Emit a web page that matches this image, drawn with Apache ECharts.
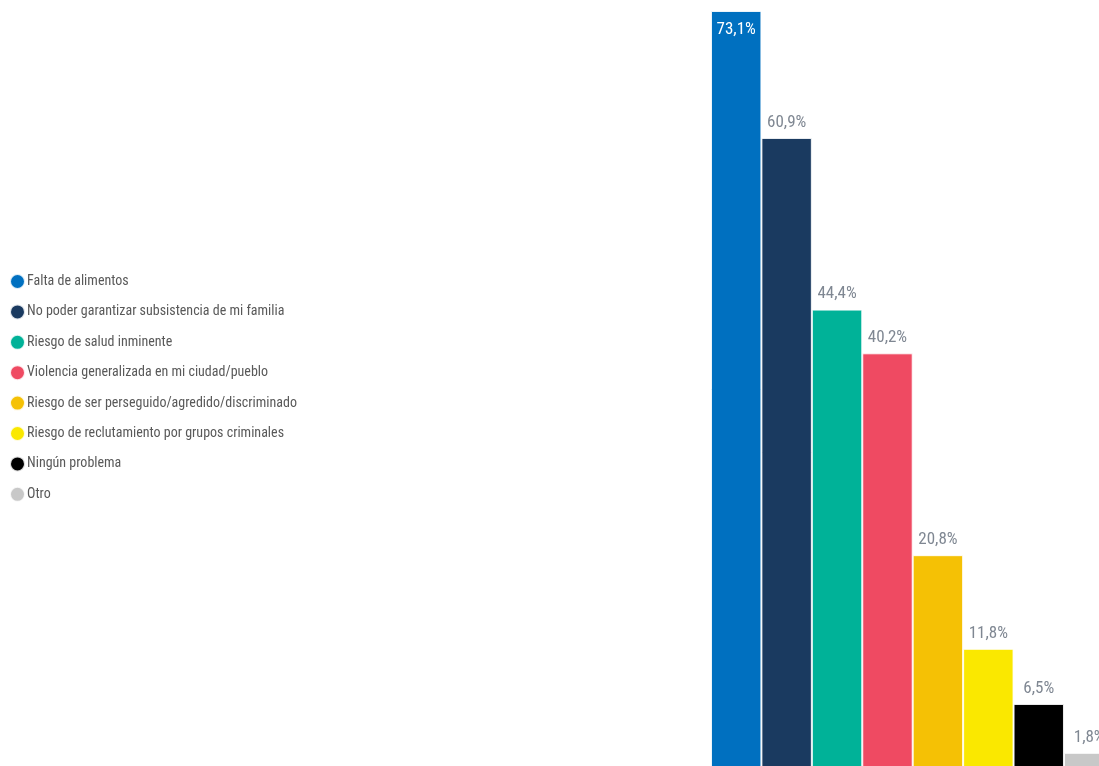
<!DOCTYPE html>
<html>
<head>
<meta charset="utf-8">
<script src="https://cdn.jsdelivr.net/npm/echarts@6/dist/echarts.min.js"></script>
<style>
html,body{margin:0;padding:0;background:#fff;}
#chart{width:1099px;height:766px;}
</style>
</head>
<body>
<div id="chart"></div>
<script>
var categories = [
  'Falta de alimentos',
  'No poder garantizar subsistencia de mi familia',
  'Riesgo de salud inminente',
  'Violencia generalizada en mi ciudad/pueblo',
  'Riesgo de ser perseguido/agredido/discriminado',
  'Riesgo de reclutamiento por grupos criminales',
  'Ningún problema',
  'Otro'
];
var values = [73.1, 60.9, 44.4, 40.2, 20.8, 11.8, 6.5, 1.8];
var colors = ['#0070C0', '#1A3A60', '#00B298', '#EF4A62', '#F5C105', '#FAE800', '#000000', '#C8C8C8'];

var FONT = '"Liberation Sans Narrow", "Arial Narrow", "Roboto Condensed", sans-serif';

function fmt(v) { return v.toFixed(1).replace('.', ',') + '%'; }

var series = categories.map(function (name, i) {
  var data = categories.map(function (c, j) { return j === i ? values[i] : '-'; });
  return {
    name: name,
    type: 'bar',
    stack: 'all',
    barCategoryGap: '0%',
    data: data,
    itemStyle: { color: colors[i], borderColor: 'rgba(255,255,255,0.85)', borderWidth: 1 },
    label: i === 0 ? {
      show: true, position: 'insideTop', distance: 10, color: '#ffffff',
      fontSize: 17, fontFamily: FONT,
      formatter: function (p) { return fmt(p.value); }
    } : {
      show: true, position: 'top', distance: 7, color: '#7f8792',
      fontSize: 17, fontFamily: FONT,
      formatter: function (p) { return fmt(p.value); }
    },
    emphasis: { disabled: true },
    animation: false
  };
});

var chart = echarts.init(document.getElementById('chart'));
chart.setOption({
  backgroundColor: '#ffffff',
  animation: false,
  legend: {
    orient: 'vertical',
    left: 4,
    top: 268,
    icon: 'circle',
    itemWidth: 15,
    itemHeight: 15,
    itemGap: 13.4,
    data: categories,
    textStyle: { color: '#595959', fontSize: 14, fontFamily: FONT, padding: [0, 0, 0, -3] },
    selectedMode: false
  },
  grid: { left: 711, width: 403.4, top: 11, height: 760.6, containLabel: false, outerBoundsMode: 'none' },
  xAxis: { type: 'category', data: categories, show: false },
  yAxis: { type: 'value', min: 0, max: 73.1, show: false },
  series: series
});
</script>
</body>
</html>
